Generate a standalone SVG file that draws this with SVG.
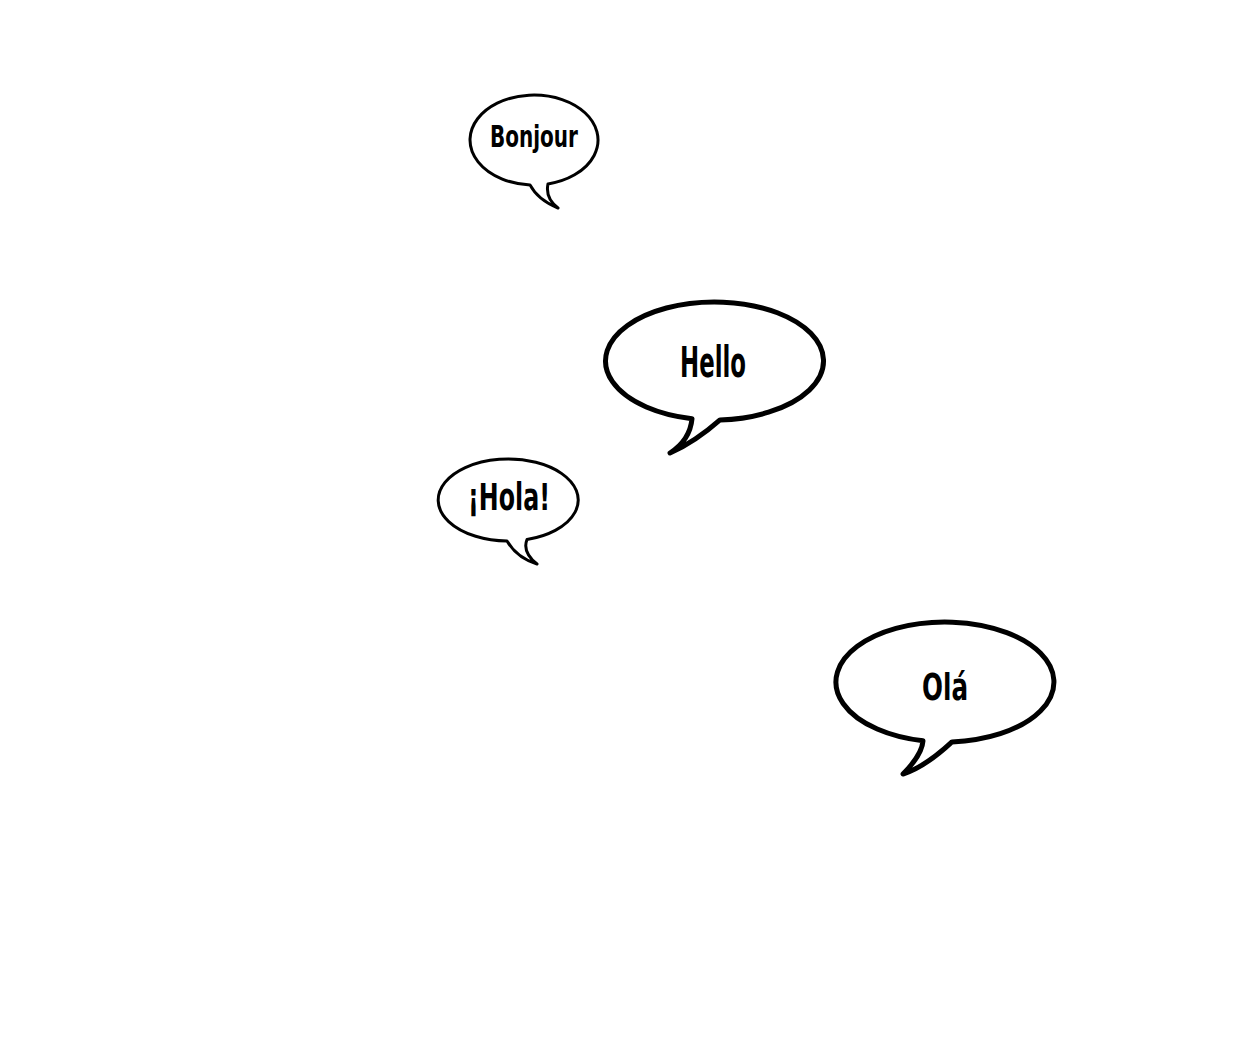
<svg xmlns="http://www.w3.org/2000/svg" width="1260" height="1050" viewBox="0 0 1260 1050">
<style>
.bubble{fill:#fff;stroke:#000;stroke-linejoin:round}
.thin{stroke-width:3}
.thick{stroke-width:5}
.lbl{font-family:"Liberation Sans Narrow","DejaVu Sans Condensed","Liberation Sans",sans-serif;font-weight:bold;fill:#000;text-anchor:middle}
</style>
<rect width="1260" height="1050" fill="#fff"/>
<g id="bonjour">
<path class="bubble thin" d="M530 184.9 A64 45 0 1 1 548 183.9 Q545 198 558 208 Q538 200 530 184.9 Z"/>
<text class="lbl" x="534" y="147" font-size="30" textLength="88" lengthAdjust="spacingAndGlyphs">Bonjour</text>
</g>
<g id="hello">
<path class="bubble thick" d="M692 418.7 A109 59 0 1 1 720 419.9 Q695 442 670 453 Q690 440 692 418.7 Z"/>
<text class="lbl" x="713" y="377" font-size="42" textLength="66" lengthAdjust="spacingAndGlyphs">Hello</text>
</g>
<g id="hola">
<path class="bubble thin" d="M507 541 A70 41 0 1 1 527 539.5 Q522 552 537 564 Q517 558 507 541 Z"/>
<text class="lbl" x="509" y="510" font-size="37" textLength="82" lengthAdjust="spacingAndGlyphs">¡Hola!</text>
</g>
<g id="ola">
<path class="bubble thick" d="M923 740.8 A109 60 0 1 1 952 741.9 Q925 767 903 774 Q922 755 923 740.8 Z"/>
<text class="lbl" x="945" y="700" font-size="38" textLength="46" lengthAdjust="spacingAndGlyphs">Olá</text>
</g>
<g id="connectors"/>
</svg>
